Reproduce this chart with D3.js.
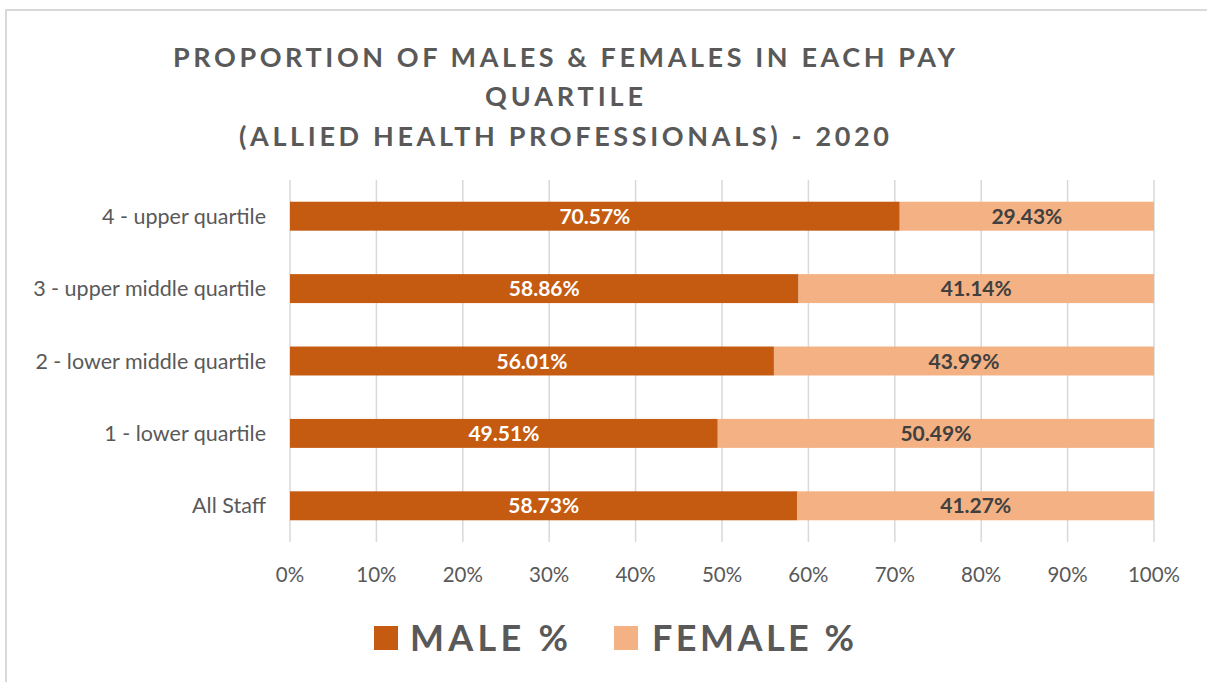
<!DOCTYPE html>
<html><head><meta charset="utf-8">
<script src="https://cdn.jsdelivr.net/npm/d3@7"></script>
<style>body{margin:0;background:#fff;}svg{display:block;}</style>
</head><body>
<script>
const categories = ["4 - upper quartile","3 - upper middle quartile","2 - lower middle quartile","1 - lower quartile","All Staff"];
const malePct = [70.57, 58.86, 56.01, 49.51, 58.73];
const femalePct = [29.43, 41.14, 43.99, 50.49, 41.27];
const xTicks = [0,10,20,30,40,50,60,70,80,90,100];
const seriesNames = ["MALE %","FEMALE %"];
const titleLines = ["PROPORTION OF MALES & FEMALES IN EACH PAY","QUARTILE","(ALLIED HEALTH PROFESSIONALS) - 2020"];

const W=1207,H=682;
const colors={male:"#C55A11",female:"#F4B183"};
const font="Lato, 'Open Sans', sans-serif";
const svg=d3.select("body").append("svg").attr("width",W).attr("height",H);

// outer chart border (top & left visible)
svg.append("line").attr("x1",5).attr("x2",W).attr("y1",10).attr("y2",10).attr("stroke","#d9d9d9").attr("stroke-width",2);
svg.append("line").attr("x1",6).attr("x2",6).attr("y1",10).attr("y2",H).attr("stroke","#d9d9d9").attr("stroke-width",2);

// title
const titleBase=[67,106,146], titleW=[782,158,650];
titleLines.forEach((t,i)=>{
  svg.append("text").attr("x",564).attr("y",titleBase[i]).attr("text-anchor","middle")
    .attr("font-family",font).attr("font-weight","bold").attr("font-size",27).attr("fill","#595959")
    .attr("textLength",titleW[i]).attr("lengthAdjust","spacing").text(t);
});

const x=d3.scaleLinear().domain([0,100]).range([290,1154]);
const y=d3.scaleBand().domain(categories).range([180,542]).paddingInner(0.6).paddingOuter(0.3);

// gridlines
svg.append("g").selectAll("line").data(xTicks).join("line")
  .attr("x1",d=>x(d)).attr("x2",d=>x(d)).attr("y1",180).attr("y2",542)
  .attr("stroke","#d9d9d9").attr("stroke-width",1.5);

// x axis labels
svg.append("g").selectAll("text").data(xTicks).join("text")
  .attr("x",d=>x(d)).attr("y",582).attr("text-anchor","middle")
  .attr("font-family",font).attr("font-size",20.5).attr("fill","#595959").text(d=>d+"%");

// category labels
svg.append("g").selectAll("text").data(categories).join("text")
  .attr("x",266).attr("y",d=>y(d)+y.bandwidth()/2).attr("dy","0.35em").attr("text-anchor","end")
  .attr("font-family",font).attr("font-size",21.5).attr("fill","#595959").text(d=>d);

// bars
const rows=categories.map((c,i)=>({c,m:malePct[i],f:femalePct[i]}));
const g=svg.append("g");
g.selectAll("rect.m").data(rows).join("rect").attr("class","m")
  .attr("x",x(0)).attr("y",d=>y(d.c)).attr("width",d=>x(d.m)-x(0)).attr("height",y.bandwidth()).attr("fill",colors.male);
g.selectAll("rect.f").data(rows).join("rect").attr("class","f")
  .attr("x",d=>x(d.m)).attr("y",d=>y(d.c)).attr("width",d=>x(d.m+d.f)-x(d.m)).attr("height",y.bandwidth()).attr("fill",colors.female);

// data labels
g.selectAll("text.m").data(rows).join("text").attr("class","m")
  .attr("x",d=>(x(0)+x(d.m))/2).attr("y",d=>y(d.c)+y.bandwidth()/2).attr("dy","0.36em").attr("text-anchor","middle")
  .attr("font-family",font).attr("font-weight","bold").attr("font-size",21).attr("fill","#ffffff").text(d=>d.m.toFixed(2)+"%");
g.selectAll("text.f").data(rows).join("text").attr("class","f")
  .attr("x",d=>(x(d.m)+x(d.m+d.f))/2).attr("y",d=>y(d.c)+y.bandwidth()/2).attr("dy","0.36em").attr("text-anchor","middle")
  .attr("font-family",font).attr("font-weight","bold").attr("font-size",21).attr("fill","#404040").text(d=>d.f.toFixed(2)+"%");

// legend
const legend=[{name:seriesNames[0],c:colors.male,sx:374,tx:410,tw:158},{name:seriesNames[1],c:colors.female,sx:614,tx:652,tw:202}];
legend.forEach(l=>{
  svg.append("rect").attr("x",l.sx).attr("y",626).attr("width",24).attr("height",24).attr("fill",l.c);
  svg.append("text").attr("x",l.tx).attr("y",651).attr("font-family",font).attr("font-weight","bold")
    .attr("font-size",36).attr("fill","#595959").attr("textLength",l.tw).attr("lengthAdjust","spacing").text(l.name);
});
</script>
</body></html>
